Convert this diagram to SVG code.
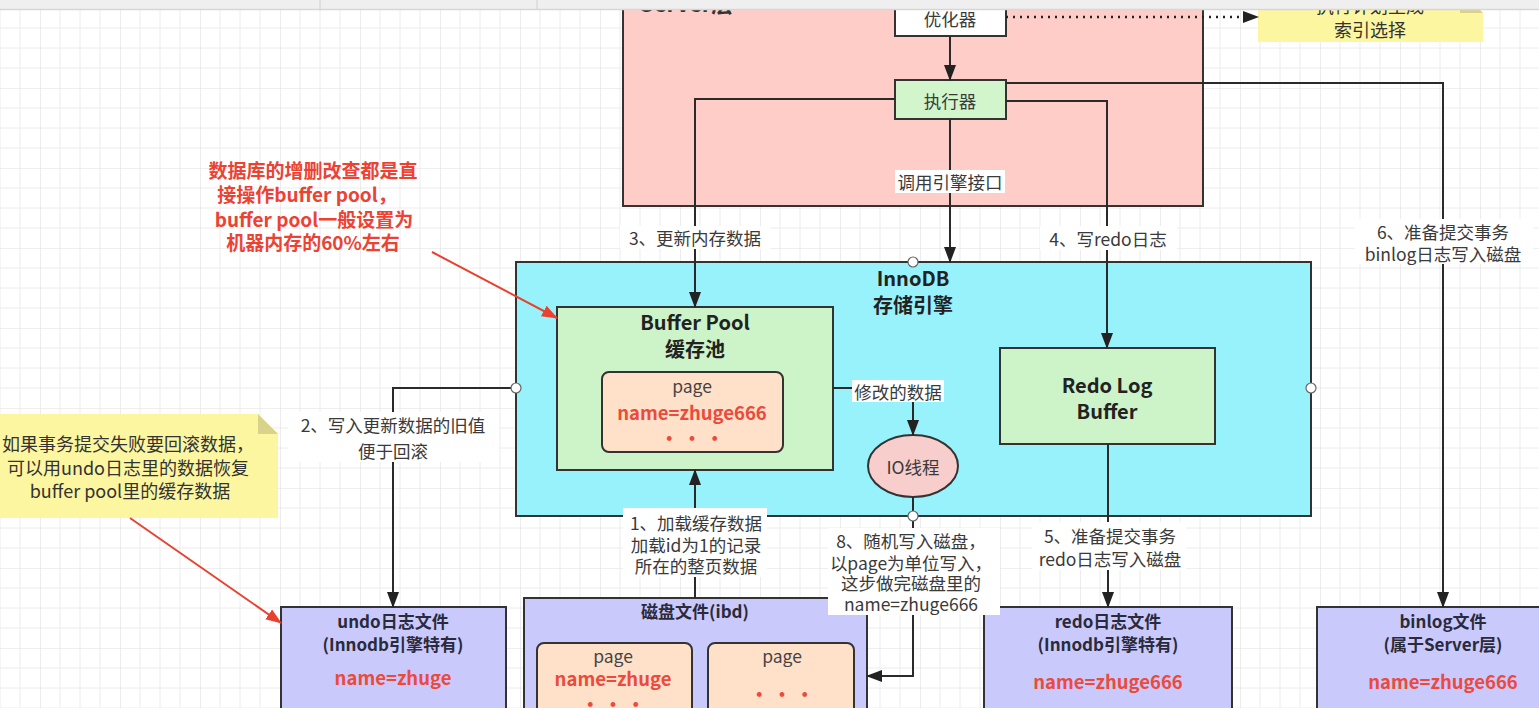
<svg xmlns="http://www.w3.org/2000/svg" width="1539" height="708" viewBox="0 0 1539 708">
<defs>
<pattern id="grid" width="80" height="80" patternUnits="userSpaceOnUse" x="40" y="8">
<path d="M20,0V80M40,0V80M60,0V80M0,20H80M0,40H80M0,60H80" stroke="#ececec" stroke-width="1" fill="none"/>
<path d="M0,0V80M0,0H80" stroke="#e0e0e0" stroke-width="1.2" fill="none"/>
</pattern>
<marker id="arr" viewBox="0 0 16 12" refX="15" refY="6" markerWidth="16" markerHeight="12" markerUnits="userSpaceOnUse" orient="auto"><path d="M0,0 L16,6 L0,12 z" fill="#222"/></marker>
<marker id="arrR" viewBox="0 0 16 12" refX="15" refY="6" markerWidth="16" markerHeight="12" markerUnits="userSpaceOnUse" orient="auto"><path d="M0,0 L16,6 L0,12 z" fill="#e8412f"/></marker>
<style>
text{font-family:"Noto Sans CJK SC","Noto Sans",sans-serif}
.box{stroke:#333;stroke-width:2}
.lbl{font-size:17.5px;fill:#3a3a3a;text-anchor:middle;dominant-baseline:central}
.ttl{font-size:20px;font-weight:bold;fill:#222;text-anchor:middle;dominant-baseline:central}
.sub{font-size:17px;font-weight:bold;fill:#2a2a3a;text-anchor:middle;dominant-baseline:central}
.nm{font-size:18.5px;font-weight:bold;fill:#ec4a3c;text-anchor:middle;dominant-baseline:central}
.pg{font-size:17.5px;fill:#444;text-anchor:middle;dominant-baseline:central}
.line{fill:none;stroke:#2a2a2a;stroke-width:2}
.lb{fill:#ffffff}
.redtxt{font-size:19px;font-weight:bold;fill:#ec4234;text-anchor:middle;dominant-baseline:central}
.notetxt{font-size:18px;fill:#333;text-anchor:middle;dominant-baseline:central}
.pt{fill:#fff;stroke:#666;stroke-width:1.2}
</style>
</defs>
<rect x="0" y="0" width="1539" height="708" fill="#ffffff"/>
<rect x="0" y="0" width="1539" height="708" fill="url(#grid)"/>

<g id="server">
<rect class="box" x="623" y="-10" width="580" height="216" fill="#fecdc8"/>
<text x="640" y="12" style="font-size:22px;font-weight:bold;fill:#333">Server层</text>
</g>
<g id="optimizer">
<rect class="box" x="895" y="-10" width="111" height="46" fill="#ffffff"/>
<text class="lbl" x="950" y="18">优化器</text>
</g>
<g id="executor">
<rect class="box" x="895" y="80" width="111" height="39" fill="#d2f5cc"/>
<text class="lbl" x="950" y="100">执行器</text>
</g>
<g id="note-plan">
<path d="M1258,-10 H1460 L1483,13 V42 H1258 Z" fill="#fdf6a0"/>
<path d="M1460,-10 V13 H1483 Z" fill="#d9d28a"/>
<text class="notetxt" x="1370" y="5">执行计划生成</text>
<text class="notetxt" x="1370" y="29">索引选择</text>
</g>

<g id="innodb">
<rect class="box" x="516" y="262" width="795" height="254" fill="#98f2fb"/>
<text class="ttl" x="913" y="277">InnoDB</text>
<text class="ttl" x="913" y="304">存储引擎</text>
</g>
<g id="bufferpool">
<rect class="box" x="557" y="307" width="276" height="163" fill="#cdf3c8"/>
<text class="ttl" x="695" y="321">Buffer Pool</text>
<text class="ttl" x="695" y="348">缓存池</text>
<g id="bp-page">
<rect class="box" x="602" y="372" width="181" height="80" rx="7" fill="#ffe0c8"/>
<text class="pg" x="692" y="385">page</text>
<text class="nm" x="692" y="412">name=zhuge666</text>
<text class="nm" x="692" y="437">• • •</text>
</g>
</g>
<g id="io-thread">
<ellipse class="box" cx="913" cy="466" rx="45" ry="31" fill="#f8cecc"/>
<text class="lbl" x="913" y="466">IO线程</text>
</g>
<g id="redo-buffer">
<rect class="box" x="1000" y="348" width="215" height="96" fill="#cdf3c8"/>
<text class="ttl" x="1107" y="384">Redo Log</text>
<text class="ttl" x="1107" y="410">Buffer</text>
</g>

<g id="undo-file">
<rect class="box" x="281" y="607" width="225" height="120" fill="#c9c9fc"/>
<text class="sub" x="393" y="620">undo日志文件</text>
<text class="sub" x="393" y="643">(Innodb引擎特有)</text>
<text class="nm" x="393" y="677">name=zhuge</text>
</g>
<g id="disk-file">
<rect class="box" x="524" y="598" width="343" height="130" fill="#c9c9fc"/>
<text class="sub" x="695" y="610">磁盘文件(ibd)</text>
<g id="disk-page1">
<rect class="box" x="537" y="643" width="155" height="80" rx="7" fill="#ffe0c8"/>
<text class="pg" x="613" y="655">page</text>
<text class="nm" x="613" y="678">name=zhuge</text>
<text class="nm" x="613" y="703">• • •</text>
</g>
<g id="disk-page2">
<rect class="box" x="708" y="643" width="146" height="80" rx="7" fill="#ffe0c8"/>
<text class="pg" x="782" y="655">page</text>
<text class="nm" x="782" y="693">• • •</text>
</g>
</g>
<g id="redo-file">
<rect class="box" x="984" y="607" width="248" height="120" fill="#c9c9fc"/>
<text class="sub" x="1108" y="620">redo日志文件</text>
<text class="sub" x="1108" y="643">(Innodb引擎特有)</text>
<text class="nm" x="1108" y="681">name=zhuge666</text>
</g>
<g id="binlog-file">
<rect class="box" x="1317" y="607" width="240" height="120" fill="#c9c9fc"/>
<text class="sub" x="1443" y="620">binlog文件</text>
<text class="sub" x="1443" y="643">(属于Server层)</text>
<text class="nm" x="1443" y="681">name=zhuge666</text>
</g>

<g id="note-red">
<text class="redtxt" x="313" y="169">数据库的增删改查都是直</text>
<text class="redtxt" x="307" y="193">接操作buffer pool，</text>
<text class="redtxt" x="314" y="218">buffer pool一般设置为</text>
<text class="redtxt" x="313" y="241">机器内存的60%左右</text>
</g>
<g id="note-undo">
<path d="M-20,414 H258 L278,434 V518 H-20 Z" fill="#fdf6a0"/>
<path d="M258,414 V434 H278 Z" fill="#d9d28a"/>
<text class="notetxt" x="128" y="443">如果事务提交失败要回滚数据，</text>
<text class="notetxt" x="128" y="467">可以用undo日志里的数据恢复</text>
<text class="notetxt" x="130" y="490">buffer pool里的缓存数据</text>
</g>

<g id="connectors">
<path class="line" d="M950,36 V80" marker-end="url(#arr)"/>
<path class="line" d="M950,119 V262" marker-end="url(#arr)"/>
<path class="line" d="M895,99 H695 V307" marker-end="url(#arr)"/>
<path class="line" d="M1006,101 H1107 V348" marker-end="url(#arr)"/>
<path class="line" d="M1006,83 H1443 V607" marker-end="url(#arr)"/>
<path d="M1006,17 H1258" fill="none" stroke="#222" stroke-width="2.5" stroke-dasharray="2,5" marker-end="url(#arr)"/>
<path class="line" d="M516,388 H393 V607" marker-end="url(#arr)"/>
<path class="line" d="M695,598 V470" marker-end="url(#arr)"/>
<path class="line" d="M833,388 H913 V435" marker-end="url(#arr)"/>
<path class="line" d="M913,497 V676 H867" marker-end="url(#arr)"/>
<path class="line" d="M1108,444 V607" marker-end="url(#arr)"/>
<path d="M130,518 L281,623" fill="none" stroke="#e8412f" stroke-width="2" marker-end="url(#arrR)"/>
<path d="M432,252 L557,318" fill="none" stroke="#e8412f" stroke-width="2" marker-end="url(#arrR)"/>

<circle class="pt" cx="913" cy="262" r="5"/>
<circle class="pt" cx="516" cy="388" r="5"/>
<circle class="pt" cx="1311" cy="388" r="5"/>
<circle class="pt" cx="913" cy="516" r="5"/>

<rect class="lb" x="620" y="226" width="150" height="23"/>
<text class="lbl" x="695" y="237">3、更新内存数据</text>
<rect class="lb" x="895" y="170" width="110" height="23"/>
<text class="lbl" x="950" y="181">调用引擎接口</text>
<rect class="lb" x="1040" y="226" width="137" height="24"/>
<text class="lbl" x="1108" y="238">4、写redo日志</text>
<rect class="lb" x="1355" y="219" width="178" height="45"/>
<text class="lbl" x="1443" y="231">6、准备提交事务</text>
<text class="lbl" x="1443" y="253">binlog日志写入磁盘</text>
<rect class="lb" x="852" y="380" width="92" height="22"/>
<text class="lbl" x="898" y="391">修改的数据</text>
<rect class="lb" x="288" y="412" width="211" height="50"/>
<text class="lbl" x="393" y="424">2、写入更新数据的旧值</text>
<text class="lbl" x="393" y="450">便于回滚</text>
<rect class="lb" x="623" y="508" width="144" height="69"/>
<text class="lbl" x="696" y="522">1、加载缓存数据</text>
<text class="lbl" x="696" y="544">加载id为1的记录</text>
<text class="lbl" x="696" y="565">所在的整页数据</text>
<rect class="lb" x="828" y="528" width="172" height="87"/>
<text class="lbl" x="911" y="540">8、随机写入磁盘，</text>
<text class="lbl" x="911" y="562">以page为单位写入，</text>
<text class="lbl" x="911" y="582">这步做完磁盘里的</text>
<text class="lbl" x="911" y="603">name=zhuge666</text>
<rect class="lb" x="1032" y="522" width="154" height="48"/>
<text class="lbl" x="1110" y="535">5、准备提交事务</text>
<text class="lbl" x="1110" y="558">redo日志写入磁盘</text>
</g>

<rect x="0" y="0" width="1539" height="9" fill="#efefef"/>
<path d="M0,9.5 H1539" stroke="#d6d6d6" stroke-width="1.5"/>
<path d="M320,0 V9 M537,0 V9" stroke="#d0d0d0" stroke-width="1"/>
</svg>
